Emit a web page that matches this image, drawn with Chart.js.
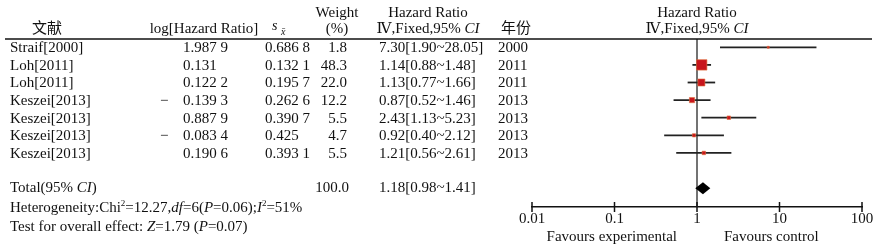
<!DOCTYPE html>
<html>
<head>
<meta charset="utf-8">
<script src="https://cdn.jsdelivr.net/npm/chart.js@4/dist/chart.umd.min.js"></script>
<style>
  html, body { margin: 0; padding: 0; background: #fff; }
  canvas { display: block; }
</style>
</head>
<body>
<canvas id="forest" width="879" height="247"></canvas>
<script>
// datos
const studies = ['Straif[2000]', 'Loh[2011]', 'Loh[2011]', 'Keszei[2013]', 'Keszei[2013]', 'Keszei[2013]', 'Keszei[2013]'];
const logHR = [1.9879, 0.131, 0.1222, -0.1393, 0.8879, -0.0834, 0.1906];
const seVals = [0.6868, 0.1321, 0.1957, 0.2626, 0.3907, 0.425, 0.3931];
const weights = [1.8, 48.3, 22.0, 12.2, 5.5, 4.7, 5.5];
const hr = [7.30, 1.14, 1.13, 0.87, 2.43, 0.92, 1.21];
const ciLow = [1.90, 0.88, 0.77, 0.52, 1.13, 0.40, 0.56];
const ciHigh = [28.05, 1.48, 1.66, 1.46, 5.23, 2.12, 2.61];
const years = [2000, 2011, 2011, 2013, 2013, 2013, 2013];
const totalWeight = 100.0;
const totalHR = 1.18;
const totalLow = 0.98;
const totalHigh = 1.41;
const xTicks = [0.01, 0.1, 1, 10, 100];

const TOTAL_ROW = 8;
const FONT = '"Liberation Serif", "DejaVu Serif", "Noto Sans CJK SC", serif';
const INK = '#111';

// 1.987 9 -> agrupa decimales de 3 en 3
function fmtDec(v) {
  const s = Math.abs(v).toString();
  const [a, b = ''] = s.split('.');
  const groups = b.match(/.{1,3}/g) || [];
  return a + (groups.length ? '.' + groups.join(' ') : '');
}
const fix2 = v => v.toFixed(2);
const ciText = (h, l, u) => `${fix2(h)}[${fix2(l)}~${fix2(u)}]`;

// texto con cursiva / superíndice
function rich(ctx, x, y, parts, align, size) {
  size = size || 15;
  const fontOf = p => (p[1] === 'i' ? 'italic ' : '') + (p[1] === 'sup' ? Math.round(size * 0.62) : size) + 'px ' + FONT;
  let w = 0;
  parts.forEach(p => { ctx.font = fontOf(p); w += ctx.measureText(p[0]).width; });
  let cx = align === 'center' ? x - w / 2 : align === 'right' ? x - w : x;
  ctx.textAlign = 'left';
  parts.forEach(p => {
    ctx.font = fontOf(p);
    ctx.fillText(p[0], cx, p[1] === 'sup' ? y - size * 0.3 : y);
    cx += ctx.measureText(p[0]).width;
  });
}

const squareRadius = w => (1.5 * Math.sqrt(w)) / (2 * Math.SQRT1_2);

const datasets = [
  {
    label: 'HR',
    data: hr.map((v, i) => ({ x: v, y: i })),
    pointStyle: 'rect',
    pointRadius: weights.map(squareRadius),
    backgroundColor: '#c8161d',
    borderColor: '#e0703c',
    borderWidth: 0.6,
    showLine: false
  }
];
ciLow.forEach((lo, i) => {
  datasets.push({
    label: 'ci' + i,
    data: [{ x: lo, y: i }, { x: ciHigh[i], y: i }],
    showLine: true,
    borderColor: '#222',
    borderWidth: 1.8,
    pointRadius: 0
  });
});

const tablePlugin = {
  id: 'tabla',
  beforeDatasetsDraw(chart) {
    const { ctx, chartArea, scales: { x } } = chart;
    const px = x.getPixelForValue(1);
    ctx.save();
    ctx.strokeStyle = '#444';
    ctx.lineWidth = 1.5;
    ctx.beginPath();
    ctx.moveTo(px, chartArea.top);
    ctx.lineTo(px, chartArea.bottom);
    ctx.stroke();
    ctx.restore();
  },
  afterDraw(chart) {
    const { ctx, chartArea, scales: { x, y } } = chart;
    ctx.save();

    // diamante del total
    const dy = y.getPixelForValue(TOTAL_ROW);
    ctx.fillStyle = '#000';
    ctx.beginPath();
    ctx.moveTo(x.getPixelForValue(totalLow) - 1, dy);
    ctx.lineTo(x.getPixelForValue(totalHR), dy - 6);
    ctx.lineTo(x.getPixelForValue(totalHigh) + 1, dy);
    ctx.lineTo(x.getPixelForValue(totalHR), dy + 6);
    ctx.closePath();
    ctx.fill();

    // marcas del eje
    ctx.strokeStyle = INK;
    ctx.lineWidth = 1.5;
    xTicks.forEach(v => {
      const tx = x.getPixelForValue(v);
      ctx.beginPath();
      ctx.moveTo(tx, chartArea.bottom - 5);
      ctx.lineTo(tx, chartArea.bottom + 5);
      ctx.stroke();
    });

    // línea de cabecera
    ctx.beginPath();
    ctx.moveTo(5, chartArea.top);
    ctx.lineTo(872, chartArea.top);
    ctx.stroke();

    ctx.fillStyle = INK;
    ctx.textBaseline = 'middle';

    // cabeceras
    const h1 = 13, h2 = 29;
    rich(ctx, 47, h2, [['文献', '']], 'center');
    rich(ctx, 204, h2, [['log[Hazard Ratio]', '']], 'center');
    rich(ctx, 272, 26, [['s', 'i']], 'left', 14);
    rich(ctx, 281, 32, [['x̄', 'i']], 'left', 10);
    rich(ctx, 337, h1, [['Weight', '']], 'center');
    rich(ctx, 337, h2, [['(%)', '']], 'center');
    rich(ctx, 428, h1, [['Hazard Ratio', '']], 'center');
    rich(ctx, 428, h2, [['Ⅳ,Fixed,95% ', ''], ['CI', 'i']], 'center');
    rich(ctx, 516, h2, [['年份', '']], 'center');
    const cx = x.getPixelForValue(1);
    rich(ctx, cx, h1, [['Hazard Ratio', '']], 'center');
    rich(ctx, cx, h2, [['Ⅳ,Fixed,95% ', ''], ['CI', 'i']], 'center');

    // filas
    studies.forEach((name, i) => {
      const ry = y.getPixelForValue(i) + 1;
      rich(ctx, 10, ry, [[name, '']], 'left');
      if (logHR[i] < 0) rich(ctx, 160, ry, [['−', '']], 'left');
      rich(ctx, 183, ry, [[fmtDec(logHR[i]), '']], 'left');
      rich(ctx, 265, ry, [[fmtDec(seVals[i]), '']], 'left');
      rich(ctx, 347, ry, [[weights[i].toFixed(1), '']], 'right');
      rich(ctx, 379, ry, [[ciText(hr[i], ciLow[i], ciHigh[i]), '']], 'left');
      rich(ctx, 498, ry, [[String(years[i]), '']], 'left');
    });

    // total
    const ty = y.getPixelForValue(TOTAL_ROW);
    rich(ctx, 10, ty, [['Total(95% ', ''], ['CI', 'i'], [')', '']], 'left');
    rich(ctx, 349, ty, [[totalWeight.toFixed(1), '']], 'right');
    rich(ctx, 379, ty, [[ciText(totalHR, totalLow, totalHigh), '']], 'left');

    rich(ctx, 10, 208, [
      ['Heterogeneity:Chi', ''], ['2', 'sup'], ['=12.27,', ''], ['df', 'i'], ['=6(', ''],
      ['P', 'i'], ['=0.06);', ''], ['I', 'i'], ['2', 'sup'], ['=51%', '']
    ], 'left');
    rich(ctx, 10, 227, [
      ['Test for overall effect: ', ''], ['Z', 'i'], ['=1.79 (', ''], ['P', 'i'], ['=0.07)', '']
    ], 'left');

    // favours
    rich(ctx, cx - 20, 237, [['Favours experimental', '']], 'right');
    rich(ctx, cx + 27, 237, [['Favours control', '']], 'left');

    ctx.restore();
  }
};

new Chart(document.getElementById('forest').getContext('2d'), {
  type: 'scatter',
  data: { datasets },
  options: {
    responsive: false,
    animation: false,
    devicePixelRatio: 1,
    layout: { padding: { left: 532, right: 17, top: 39, bottom: 0 } },
    plugins: { legend: { display: false }, tooltip: { enabled: false } },
    scales: {
      x: {
        type: 'logarithmic',
        min: 0.01,
        max: 100,
        afterBuildTicks: s => { s.ticks = xTicks.map(v => ({ value: v })); },
        afterFit: s => { s.height = 40; },
        ticks: {
          callback: v => String(v),
          font: { family: FONT, size: 15 },
          color: INK,
          padding: 3,
          maxRotation: 0,
          autoSkip: false
        },
        grid: { display: true, drawOnChartArea: false, drawTicks: false },
        border: { display: true, color: INK, width: 1.5 }
      },
      y: {
        type: 'linear',
        reverse: true,
        min: -0.47,
        max: 9.07,
        display: false
      }
    }
  },
  plugins: [tablePlugin]
});
</script>
</body>
</html>
